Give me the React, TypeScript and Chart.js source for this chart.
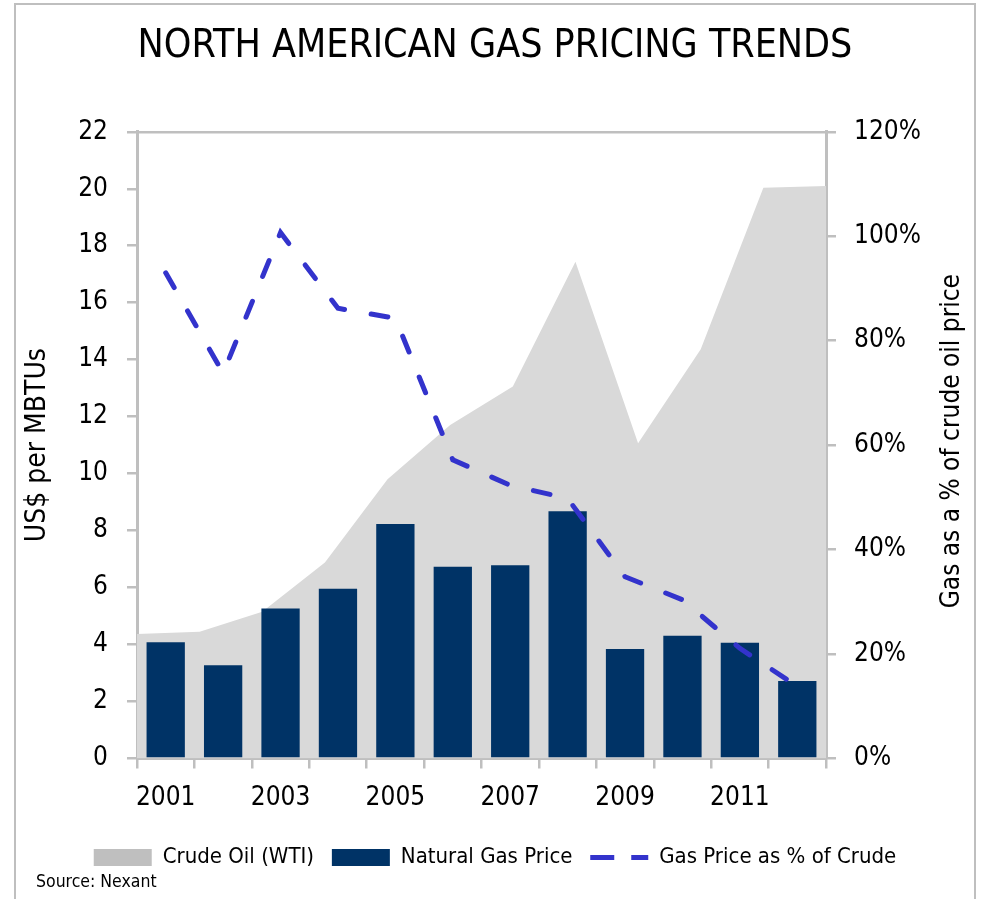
import React, { useEffect, useRef } from 'react';
import { Chart, registerables } from 'chart.js';

Chart.register(...registerables);

const FONT = "'Liberation Sans Narrow', 'Arial Narrow', 'DejaVu Sans Condensed', sans-serif";

const chartTitle = 'NORTH AMERICAN GAS PRICING TRENDS';
const leftAxisTitle = 'US$ per MBTUs';
const rightAxisTitle = 'Gas as a % of crude oil price';
const sourceNote = 'Source: Nexant';

const years = ['2001', '2002', '2003', '2004', '2005', '2006', '2007', '2008', '2009', '2010', '2011', '2012'];
// Crude oil (WTI) price, US$ per MBTU
const crudeOil = [4.37, 4.45, 5.15, 6.88, 9.8, 11.71, 13.06, 17.44, 11.07, 14.37, 20.04, 20.1];
// Natural gas price, US$ per MBTU
const naturalGas = [4.08, 3.27, 5.27, 5.96, 8.23, 6.73, 6.78, 8.68, 3.84, 4.31, 4.06, 2.72];
// Gas price as % of crude
const gasPctOfCrude = [93, 73.8, 100.7, 86.2, 84.3, 57.2, 52.3, 49.8, 34.8, 30.4, 21.1, 13.8];

const leftMax = 22;
const leftStep = 2;
const rightMax = 120;
const rightStep = 20;

const AXIS = '#bfbfbf';

export default function App() {
  const ref = useRef<HTMLCanvasElement>(null);

  useEffect(() => {
    if (!ref.current) return;

    const rightTitlePlugin = {
      id: 'rightTitle',
      afterDraw(chart: any) {
        const s = chart.scales.y1;
        const ctx = chart.ctx;
        ctx.save();
        ctx.translate(s.right - 22, (s.top + s.bottom) / 2 - 4);
        ctx.rotate(-Math.PI / 2);
        ctx.textAlign = 'center';
        ctx.textBaseline = 'middle';
        ctx.fillStyle = '#000';
        ctx.font = `26px ${FONT}`;
        ctx.fillText(rightAxisTitle, 0, 0);
        ctx.restore();
      },
    };

    const chart = new Chart(ref.current, {
      type: 'bar',
      data: {
        labels: years,
        datasets: [
          {
            type: 'line',
            label: 'Crude Oil (WTI)',
            data: crudeOil,
            xAxisID: 'x2',
            yAxisID: 'y',
            backgroundColor: '#d9d9d9',
            borderColor: '#d9d9d9',
            borderWidth: 0,
            pointRadius: 0,
            fill: 'origin',
            tension: 0,
            order: 3,
          } as any,
          {
            type: 'bar',
            label: 'Natural Gas Price',
            data: naturalGas,
            xAxisID: 'x',
            yAxisID: 'y',
            backgroundColor: '#003366',
            borderWidth: 0,
            grouped: false,
            barPercentage: 0.667,
            categoryPercentage: 1,
            order: 2,
          } as any,
          {
            type: 'line',
            label: 'Gas Price as % of Crude',
            data: gasPctOfCrude,
            xAxisID: 'x',
            yAxisID: 'y1',
            borderColor: '#3333cc',
            backgroundColor: '#3333cc',
            borderWidth: 5,
            borderDash: [17, 27],
            borderCapStyle: 'round',
            pointRadius: 0,
            fill: false,
            tension: 0,
            order: 1,
          } as any,
        ],
      },
      options: {
        responsive: false,
        animation: false,
        layout: { padding: { left: 16, right: 8, top: 0, bottom: 20.5 } },
        plugins: {
          title: {
            display: true,
            text: chartTitle,
            color: '#000',
            font: { family: FONT, size: 39, weight: 'normal' as any, lineHeight: 1.2 },
            padding: { top: 23.5, bottom: 61.5 },
          },
          legend: {
            display: true,
            position: 'bottom',
            labels: {
              color: '#000',
              font: { family: FONT, size: 22 },
              usePointStyle: true,
              pointStyleWidth: 58,
              boxHeight: 17,
              padding: 17.8,
              sort: (a: any, b: any) => a.datasetIndex - b.datasetIndex,
              generateLabels: (chart: any) => {
                const items = Chart.defaults.plugins.legend.labels.generateLabels(chart);
                return items.map((it: any) => {
                  if (it.datasetIndex === 2) {
                    return { ...it, pointStyle: 'line', lineDash: [24, 17], lineCap: 'butt', lineWidth: 5 };
                  }
                  if (it.datasetIndex === 0) {
                    return { ...it, pointStyle: 'rect', fillStyle: '#bfbfbf', lineWidth: 0 };
                  }
                  return { ...it, pointStyle: 'rect', lineWidth: 0 };
                });
              },
            },
          },
          tooltip: { enabled: false },
        },
        scales: {
          x: {
            type: 'category',
            position: 'bottom',
            offset: true,
            grid: {
              offset: true,
              drawOnChartArea: false,
              drawTicks: true,
              tickLength: 10,
              color: AXIS,
              lineWidth: 2.5,
            },
            border: { color: AXIS, width: 3 },
            ticks: {
              color: '#000',
              font: { family: FONT, size: 26 },
              padding: 14.5,
              autoSkip: false,
              maxRotation: 0,
              callback: (_v: any, i: number) => (i % 2 === 0 ? years[i] : ''),
            },
          },
          x2: {
            type: 'category',
            display: false,
            offset: false,
            labels: years,
          },
          y: {
            position: 'left',
            min: 0,
            max: leftMax,
            ticks: {
              stepSize: leftStep,
              color: '#000',
              font: { family: FONT, size: 26 },
              padding: 19,
            },
            grid: {
              drawOnChartArea: true,
              tickLength: 10,
              lineWidth: 2.5,
              tickColor: AXIS,
              color: (c: any) => (c.tick && c.tick.value === leftMax ? AXIS : 'rgba(0,0,0,0)'),
            },
            border: { color: AXIS, width: 3 },
            title: {
              display: true,
              text: leftAxisTitle,
              color: '#000',
              font: { family: FONT, size: 28 },
              padding: { top: 5, bottom: 4 },
            },
            afterFit: (scale: any) => {
              scale.width = 121;
            },
          },
          y1: {
            position: 'right',
            min: 0,
            max: rightMax,
            ticks: {
              stepSize: rightStep,
              color: '#000',
              font: { family: FONT, size: 26 },
              padding: 18,
              callback: (v: any) => `${v}%`,
            },
            grid: {
              drawOnChartArea: false,
              tickLength: 10,
              lineWidth: 2.5,
              color: AXIS,
            },
            border: { color: AXIS, width: 3 },
            title: { display: false, text: rightAxisTitle },
            afterFit: (scale: any) => {
              scale.width = 148;
            },
          },
        },
      } as any,
      plugins: [rightTitlePlugin],
    });

    return () => chart.destroy();
  }, []);

  return (
    <div style={{ position: 'absolute', left: 0, top: 0, width: 982, height: 899, overflow: 'hidden', background: '#fff' }}>
      <canvas ref={ref} width={982} height={899} style={{ display: 'block', width: 982, height: 899 }} />
      <div
        style={{
          position: 'absolute',
          left: 14,
          top: 3,
          width: 958,
          height: 900,
          borderStyle: 'solid',
          borderColor: '#bfbfbf',
          borderWidth: '2px 2px 0 2px',
          pointerEvents: 'none',
        }}
      />
      <div
        style={{
          position: 'absolute',
          left: 36,
          top: 872,
          fontFamily: FONT,
          fontSize: 17.5,
          lineHeight: '18px',
          color: '#000',
          whiteSpace: 'nowrap',
        }}
      >
        {sourceNote}
      </div>
    </div>
  );
}
